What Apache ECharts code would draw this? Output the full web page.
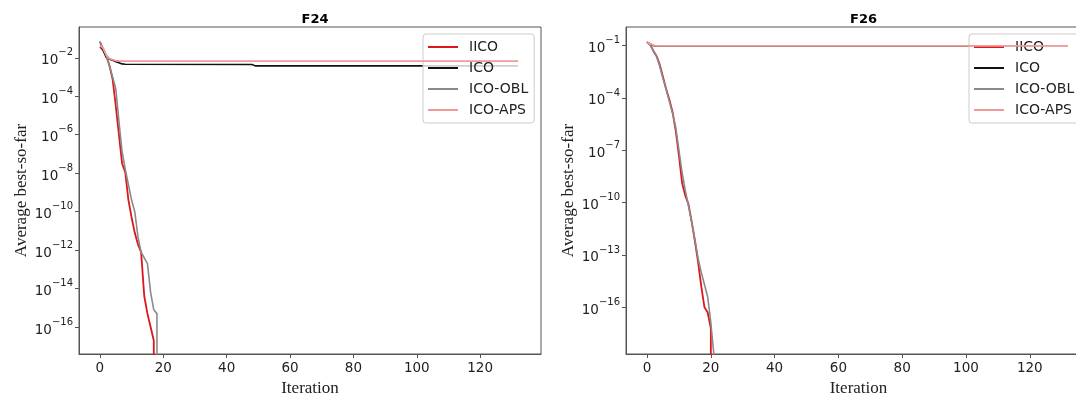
<!DOCTYPE html>
<html>
<head>
<meta charset="utf-8">
<script src="https://cdn.jsdelivr.net/npm/echarts@6/dist/echarts.min.js"></script>
<style>
  html, body { margin: 0; padding: 0; background: #fff; }
  #chart { width: 1076px; height: 398px; }
</style>
</head>
<body>
<div id="chart"></div>
<script>
// ---------- DATA ----------
const seriesNames = ['IICO', 'ICO', 'ICO-OBL', 'ICO-APS'];
const panelTitles = ['F24', 'F26'];
const xTicks = [0, 20, 40, 60, 80, 100, 120];
const yTicksF24 = [1e-2, 1e-4, 1e-6, 1e-8, 1e-10, 1e-12, 1e-14, 1e-16];
const yTicksF26 = [1e-1, 1e-4, 1e-7, 1e-10, 1e-13, 1e-16];
const ZERO = 1e-300; // value reached 0 (drops off the log axis)

// F24
const f24IICOIter = [0,1,2,3,4,5,6,7,8,9,10,11,12,13,14,15,16,17,18];
const f24IICO = [3.7e-2,2.5e-2,1.3e-2,4.0e-3,7.9e-4,3.2e-5,1.0e-6,3.2e-8,1.1e-8,4.0e-10,5.0e-11,7.9e-12,2.0e-12,7.9e-13,4.0e-15,5.0e-16,1.0e-16,2.0e-17,ZERO];
const f24ICOIter = [0,1,2,3,4,5,6,7,8,48,49,132];
const f24ICO = [6.8e-2,2.5e-2,1.05e-2,8.5e-3,7.5e-3,6.3e-3,5.5e-3,4.8e-3,4.6e-3,4.5e-3,3.8e-3,3.8e-3];
const f24OBLIter = [0,1,2,3,4,5,6,7,8,9,10,11,12,13,14,15,16,17,18,19];
const f24OBL = [6.8e-2,3.2e-2,1.3e-2,4.0e-3,1.0e-3,2.5e-4,5.0e-6,1.3e-7,1.6e-8,2.5e-9,4.0e-10,1.0e-10,5.0e-12,7.9e-13,4.0e-13,2.0e-13,6.3e-15,7.9e-16,5.0e-16,ZERO];
const f24APSIter = [0,1,2,3,4,5,6,7,132];
const f24APS = [4.6e-2,3.2e-2,1.4e-2,9.0e-3,8.0e-3,7.2e-3,6.8e-3,6.7e-3,6.7e-3];

// F26
const f26IICOIter = [0,1,2,3,4,5,6,7,8,9,10,11,12,13,14,15,16,17,18,19,20,21];
const f26IICO = [1.6e-1,1.1e-1,5.0e-2,2.5e-2,7.9e-3,1.6e-3,3.2e-4,7.9e-5,1.6e-5,1.3e-6,5.0e-8,1.3e-9,2.5e-10,7.9e-11,7.9e-12,6.3e-13,4.0e-14,1.6e-15,1.0e-16,5.0e-17,6.3e-18,ZERO];
const f26ICOIter = [0,1,2,3,132];
const f26ICO = [1.6e-1,1.2e-1,1.0e-1,9.6e-2,9.6e-2];
const f26OBLIter = [0,1,2,3,4,5,6,7,8,9,10,11,12,13,14,15,16,17,18,19,20,21,22];
const f26OBL = [1.6e-1,1.1e-1,5.0e-2,2.5e-2,6.3e-3,1.3e-3,3.2e-4,6.3e-5,1.3e-5,2.0e-6,1.0e-7,5.0e-9,5.0e-10,6.3e-11,7.9e-12,7.9e-13,6.3e-14,1.0e-14,2.0e-15,4.0e-16,1.3e-17,1.6e-19,ZERO];
const f26APSIter = [0,1,2,3,4,132];
const f26APS = [1.6e-1,1.3e-1,1.05e-1,9.8e-2,9.6e-2,9.6e-2];

// ---------- STYLE ----------
const colors = { 'IICO': '#e0141b', 'ICO': '#111111', 'ICO-OBL': '#8a8a8a', 'ICO-APS': '#f29a9a' };
const widths = { 'IICO': 1.8, 'ICO': 1.6, 'ICO-OBL': 1.6, 'ICO-APS': 1.8 };
const sansFont = 'DejaVu Sans';
const serifFont = 'Liberation Serif';
const frameColor = '#555';
const textColor = '#222';

const pairs = (xs, ys) => xs.map((x, i) => [x, ys[i]]);

const panels = [
  { left: 79, width: 462, yMin: Math.pow(10, -17.4), yMax: Math.pow(10, -0.4), yTicks: yTicksF24,
    data: [pairs(f24IICOIter, f24IICO), pairs(f24ICOIter, f24ICO), pairs(f24OBLIter, f24OBL), pairs(f24APSIter, f24APS)],
    legendLeft: 423 },
  { left: 626, width: 465, yMin: Math.pow(10, -18.68), yMax: Math.pow(10, 0.07), yTicks: yTicksF26,
    data: [pairs(f26IICOIter, f26IICO), pairs(f26ICOIter, f26ICO), pairs(f26OBLIter, f26OBL), pairs(f26APSIter, f26APS)],
    legendLeft: 969 }
];

const supLabel = v => {
  const e = Math.round(Math.log10(v));
  return '{b|10}{s|' + (e < 0 ? '\u2212' + (-e) : e) + '}';
};

const option = {
  animation: false,
  backgroundColor: '#fff',
  title: panels.map((p, i) => ({
    text: panelTitles[i],
    left: p.left + p.width / 2,
    textAlign: 'center',
    top: 8,
    textStyle: { fontFamily: sansFont, fontWeight: 'bold', fontSize: 13, color: '#000' }
  })),
  grid: panels.map(p => ({
    left: p.left, top: 27, width: p.width, height: 327,
    containLabel: false, outerBoundsMode: 'none',
    show: true, borderColor: frameColor, borderWidth: 1, backgroundColor: 'transparent'
  })),
  xAxis: panels.map((p, i) => ({
    gridIndex: i, type: 'value', min: -6.6, max: 139.2,
    name: 'Iteration', nameLocation: 'middle', nameGap: 25,
    nameTextStyle: { fontFamily: serifFont, fontSize: 17, color: textColor },
    axisLine: { show: true, onZero: false, lineStyle: { color: frameColor, width: 1 } },
    axisTick: { show: true, customValues: xTicks, length: 4, lineStyle: { color: frameColor } },
    axisLabel: { customValues: xTicks, margin: 7, fontFamily: sansFont, fontSize: 13.5, color: textColor },
    splitLine: { show: false }
  })),
  yAxis: panels.map((p, i) => ({
    gridIndex: i, type: 'log', logBase: 10, min: p.yMin, max: p.yMax,
    name: 'Average best-so-far', nameLocation: 'middle', nameGap: 49,
    nameTextStyle: { fontFamily: serifFont, fontSize: 17, color: textColor },
    axisLine: { show: true, onZero: false, lineStyle: { color: frameColor, width: 1 } },
    axisTick: { show: true, customValues: p.yTicks, length: 4, lineStyle: { color: frameColor } },
    axisLabel: {
      customValues: p.yTicks, margin: 6, formatter: supLabel,
      rich: {
        b: { fontFamily: sansFont, fontSize: 13.5, color: textColor, lineHeight: 20, verticalAlign: 'bottom' },
        s: { fontFamily: sansFont, fontSize: 10, color: textColor, lineHeight: 10, verticalAlign: 'top' }
      }
    },
    splitLine: { show: false },
    minorTick: { show: false }
  })),
  legend: panels.map(p => ({
    data: seriesNames,
    orient: 'vertical',
    left: p.legendLeft, top: 34,
    icon: 'rect', itemWidth: 30, itemHeight: 2, itemGap: 7,
    padding: [6, 6, 6, 5],
    backgroundColor: 'rgba(255,255,255,0.8)',
    borderColor: '#cccccc', borderWidth: 1, borderRadius: 3,
    textStyle: { fontFamily: sansFont, fontSize: 14, color: textColor, padding: [0, 0, 0, 6] }
  })),
  series: []
};

panels.forEach((p, i) => {
  seriesNames.forEach((name, k) => {
    option.series.push({
      name, type: 'line', xAxisIndex: i, yAxisIndex: i,
      data: p.data[k], showSymbol: false, symbol: 'none', clip: true,
      lineStyle: { color: colors[name], width: widths[name] },
      itemStyle: { color: colors[name] },
      z: 2 + k
    });
  });
});

const chart = echarts.init(document.getElementById('chart'), null, { renderer: 'canvas' });
chart.setOption(option);
</script>
</body>
</html>
